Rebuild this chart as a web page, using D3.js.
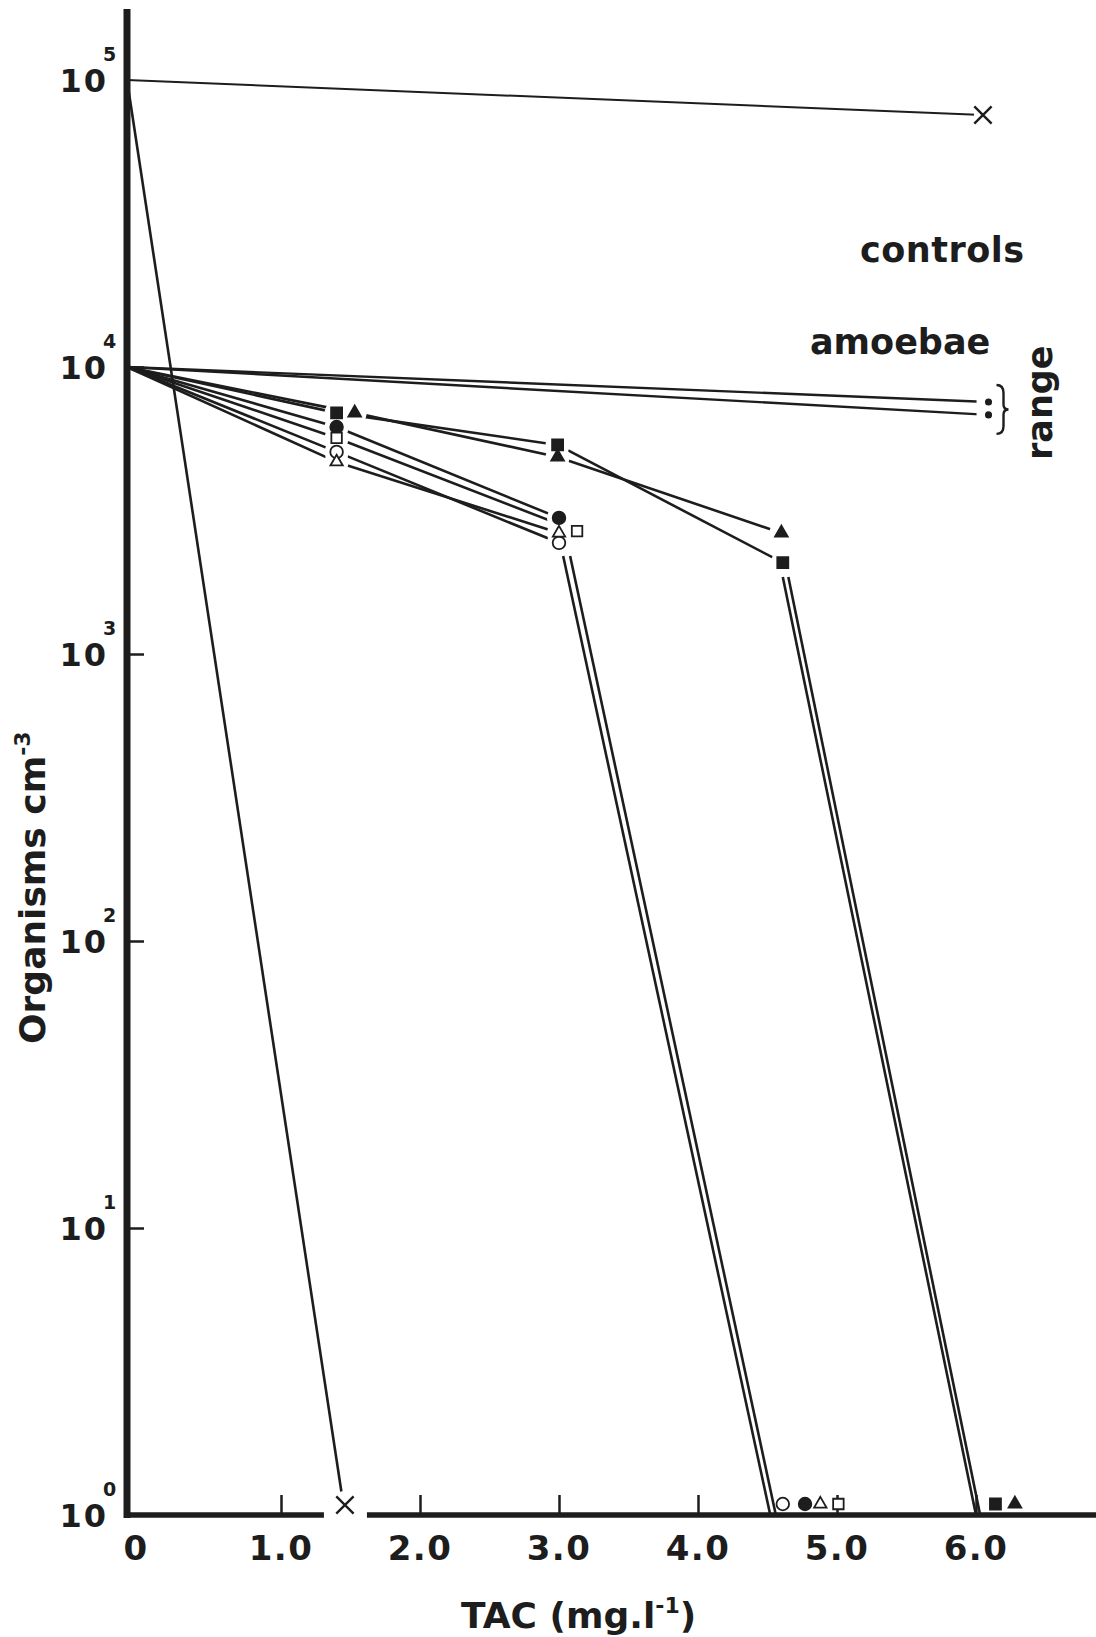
<!DOCTYPE html>
<html lang="en">
<head>
<meta charset="utf-8">
<title>TAC and organisms</title>
<script src="https://cdn.jsdelivr.net/npm/d3@7"></script>
<style>
  body { margin: 0; background: #fff; }
  text { font-family: "DejaVu Sans", sans-serif; font-weight: bold; fill: #1d1d1d; }
</style>
</head>
<body>
<script>

// Width and height
var w = 1096;
var h = 1637;

// Axis ticks
var tacTicks = [0, 1, 2, 3, 4, 5, 6];
var tacLabels = ["0", "1.0", "2.0", "3.0", "4.0", "5.0", "6.0"];
var countTicks = [1, 10, 100, 1000, 10000, 100000];
var countExps = ["0", "1", "2", "3", "4", "5"];

// Controls: [TAC, organisms per cm3]
var controlTop = [[0, 100000], [6.05, 75500]];
var controlKill = [[0, 100000], [1.46, 1]];
var amoebaeHigh = [[0, 10000], [6.09, 7550]];
var amoebaeLow = [[0, 10000], [6.09, 6810]];

// Treated cultures, one array per symbol
var squareFilled = [[0, 10000], [1.40, 6920], [2.99, 5350], [4.61, 2080]];
var triangleFilled = [[0, 10000], [1.53, 6920], [2.99, 4860], [4.60, 2640]];
var circleFilled = [[0, 10000], [1.40, 6180], [3.00, 2980]];
var squareOpen = [[0, 10000], [1.40, 5660], [3.13, 2680]];
var circleOpen = [[0, 10000], [1.40, 5060], [3.00, 2440]];
var triangleOpen = [[0, 10000], [1.40, 4670], [3.00, 2640]];

// Cultures with no survivors (plotted on the axis)
var zeroTac = [4.61, 4.77, 4.88, 5.01, 6.14, 6.28];
var zeroSym = ["circleOpen", "circleFilled", "triangleOpen", "squareOpen", "squareFilled", "triangleFilled"];

// Double lines falling to zero
var dropLines = [
	[[3.03, 2195], [4.52, 1]],
	[[3.08, 2195], [4.56, 1]],
	[[4.61, 1855], [6.00, 1]],
	[[4.65, 1855], [6.03, 1]]
];

// hand drawn axis: ticks are not quite even
var xScale = d3.scaleLinear().domain([0, 1, 6]).range([127, 281, 976]);
var yScale = d3.scaleLog().domain([1, 100000]).range([1515, 80]);

var ink = "#1d1d1d";

// X marker
var symbolCross = {
	draw: function(ctx, size) {
		var r = Math.sqrt(size) / 2;
		ctx.moveTo(-r, -r); ctx.lineTo(r, r);
		ctx.moveTo(r, -r); ctx.lineTo(-r, r);
	}
};

var symbols = {
	squareFilled:   {type: d3.symbolSquare,   size: 121, fill: true},
	triangleFilled: {type: d3.symbolTriangle, size: 70,  fill: true},
	circleFilled:   {type: d3.symbolCircle,   size: 125, fill: true},
	squareOpen:     {type: d3.symbolSquare,   size: 110, fill: false},
	circleOpen:     {type: d3.symbolCircle,   size: 125, fill: false},
	triangleOpen:   {type: d3.symbolTriangle, size: 66,  fill: false},
	dot:            {type: d3.symbolCircle,   size: 22,  fill: true},
	cross:          {type: symbolCross,       size: 300, fill: false}
};

var series = [
	{pts: squareFilled, sym: "squareFilled"},
	{pts: triangleFilled, sym: "triangleFilled"},
	{pts: circleFilled, sym: "circleFilled"},
	{pts: squareOpen, sym: "squareOpen"},
	{pts: circleOpen, sym: "circleOpen"},
	{pts: triangleOpen, sym: "triangleOpen"}
];

var svg = d3.select("body").append("svg")
	.attr("width", w)
	.attr("height", h);

svg.append("rect").attr("width", w).attr("height", h).attr("fill", "#fff");

var line = d3.line()
	.x(function(d) { return xScale(d[0]); })
	.y(function(d) { return yScale(d[1]); });

// lines first
var lineGroup = svg.append("g")
	.attr("fill", "none")
	.attr("stroke", ink)
	.attr("stroke-linejoin", "round");

lineGroup.append("path").attr("d", line(controlTop)).attr("stroke-width", 2);
lineGroup.append("path").attr("d", line(controlKill)).attr("stroke-width", 2.6);
lineGroup.append("path").attr("d", line(amoebaeHigh)).attr("stroke-width", 2.4);
lineGroup.append("path").attr("d", line(amoebaeLow)).attr("stroke-width", 2.4);

series.forEach(function(s) {
	lineGroup.append("path").attr("d", line(s.pts)).attr("stroke-width", 2.6);
});

dropLines.forEach(function(d) {
	lineGroup.append("path").attr("d", line(d)).attr("stroke-width", 2.6);
});

// every marker that is not on the axis
var markers = [];
series.forEach(function(s) {
	s.pts.slice(1).forEach(function(p) { markers.push({x: p[0], y: p[1], sym: s.sym, dy: 0}); });
});
markers.push({x: controlTop[1][0], y: controlTop[1][1], sym: "cross", dy: 0});
markers.push({x: amoebaeHigh[1][0], y: amoebaeHigh[1][1], sym: "dot", dy: 0});
markers.push({x: amoebaeLow[1][0], y: amoebaeLow[1][1], sym: "dot", dy: 0});

var bottomMarkers = zeroTac.map(function(t, i) {
	return {x: t, y: 1, sym: zeroSym[i], dy: -11};
});
var killMarker = {x: controlKill[1][0], y: controlKill[1][1], sym: "cross", dy: -10};

// white gaps round the markers, like the pen drawing
svg.append("g").selectAll("circle")
	.data(markers.concat([killMarker]))
	.enter()
	.append("circle")
	.attr("cx", function(d) { return xScale(d.x); })
	.attr("cy", function(d) { return yScale(d.y) + d.dy; })
	.attr("r", function(d) { return d.sym == "cross" ? (d.dy ? 14 : 9) : 12; })
	.attr("fill", "#fff");

// y axis
svg.append("line")
	.attr("x1", xScale(0)).attr("x2", xScale(0))
	.attr("y1", 9).attr("y2", yScale(1) + 3)
	.attr("stroke", ink).attr("stroke-width", 7);

var yAxis = d3.axisRight(yScale)
	.tickValues([10, 100, 1000, 10000])
	.tickSize(17)
	.tickFormat("");
var yg = svg.append("g").attr("transform", "translate(" + xScale(0) + ",0)").call(yAxis);
yg.select(".domain").remove();
yg.selectAll(".tick line").attr("stroke", ink).attr("stroke-width", 2.5);

// x axis, broken round the X on it
var gapL = xScale(killMarker.x) - 21;
var gapR = xScale(killMarker.x) + 22;
svg.append("line")
	.attr("x1", xScale(0) - 3).attr("x2", gapL)
	.attr("y1", yScale(1)).attr("y2", yScale(1))
	.attr("stroke", ink).attr("stroke-width", 5.5);
svg.append("line")
	.attr("x1", gapR).attr("x2", w)
	.attr("y1", yScale(1)).attr("y2", yScale(1))
	.attr("stroke", ink).attr("stroke-width", 5.5);

var xAxis = d3.axisTop(xScale)
	.tickValues(tacTicks.slice(1))
	.tickSize(20)
	.tickFormat("");
var xg = svg.append("g").attr("transform", "translate(0," + yScale(1) + ")").call(xAxis);
xg.select(".domain").remove();
xg.selectAll(".tick line").attr("stroke", ink).attr("stroke-width", 2.5);

// markers
var symbolPath = function(d) {
	var s = symbols[d.sym];
	return d3.symbol().type(s.type).size(s.size)();
};
svg.append("g").selectAll("path")
	.data(markers.concat(bottomMarkers, [killMarker]))
	.enter()
	.append("path")
	.attr("transform", function(d) {
		return "translate(" + xScale(d.x) + "," + (yScale(d.y) + d.dy) + ")";
	})
	.attr("d", symbolPath)
	.attr("fill", function(d) { return symbols[d.sym].fill ? ink : "#fff"; })
	.attr("stroke", ink)
	.attr("stroke-width", function(d) { return d.sym == "cross" ? 2.4 : 1.8; });

// tick labels
svg.append("g").selectAll("text")
	.data(tacTicks)
	.enter()
	.append("text")
	.attr("x", function(d) { return xScale(d) + (d == 0 ? 9 : 0); })
	.attr("y", 1560)
	.attr("text-anchor", "middle")
	.attr("font-size", 34)
	.attr("letter-spacing", 1.5)
	.text(function(d, i) { return tacLabels[i]; });

var yLab = svg.append("g").selectAll("g")
	.data(countTicks)
	.enter()
	.append("g");
yLab.append("text")
	.attr("x", 108)
	.attr("y", function(d) { return yScale(d) + 12; })
	.attr("text-anchor", "end")
	.attr("font-size", 32)
	.attr("letter-spacing", 2)
	.text("10");
yLab.append("text")
	.attr("x", 103)
	.attr("y", function(d) { return yScale(d) - 19; })
	.attr("font-size", 19)
	.text(function(d, i) { return countExps[i]; });

// axis titles
var yTitle = svg.append("text")
	.attr("transform", "translate(45,1044) rotate(-90)")
	.attr("font-size", 36);
yTitle.append("tspan").text("Organisms cm");
yTitle.append("tspan").attr("dy", -15).attr("font-size", 22).text("-3");

var xTitle = svg.append("text")
	.attr("x", 461)
	.attr("y", 1628)
	.attr("font-size", 36);
xTitle.append("tspan").text("TAC (mg.l");
xTitle.append("tspan").attr("dy", -15).attr("font-size", 22).text("-1");
xTitle.append("tspan").attr("dy", 15).text(")");

// annotations
svg.append("text").attr("x", 860).attr("y", 262).attr("font-size", 35).attr("letter-spacing", 0.5).text("controls");
svg.append("text").attr("x", 810).attr("y", 354).attr("font-size", 35).text("amoebae");
svg.append("text")
	.attr("transform", "translate(1052,460) rotate(-90)")
	.attr("font-size", 35)
	.text("range");

// brace next to the two control dots
var bx = xScale(amoebaeHigh[1][0]) + 8;
var bt = yScale(amoebaeHigh[1][1]) - 17;
var bb = yScale(amoebaeLow[1][1]) + 19;
var bm = (bt + bb) / 2;
svg.append("path")
	.attr("d", "M" + bx + "," + bt +
		" Q" + (bx + 7) + "," + bt + " " + (bx + 7) + "," + (bt + 8) +
		" L" + (bx + 7) + "," + (bm - 5) +
		" Q" + (bx + 7) + "," + bm + " " + (bx + 12) + "," + bm +
		" Q" + (bx + 7) + "," + bm + " " + (bx + 7) + "," + (bm + 5) +
		" L" + (bx + 7) + "," + (bb - 8) +
		" Q" + (bx + 7) + "," + bb + " " + bx + "," + bb)
	.attr("fill", "none")
	.attr("stroke", ink)
	.attr("stroke-width", 2.4);

</script>
</body>
</html>
